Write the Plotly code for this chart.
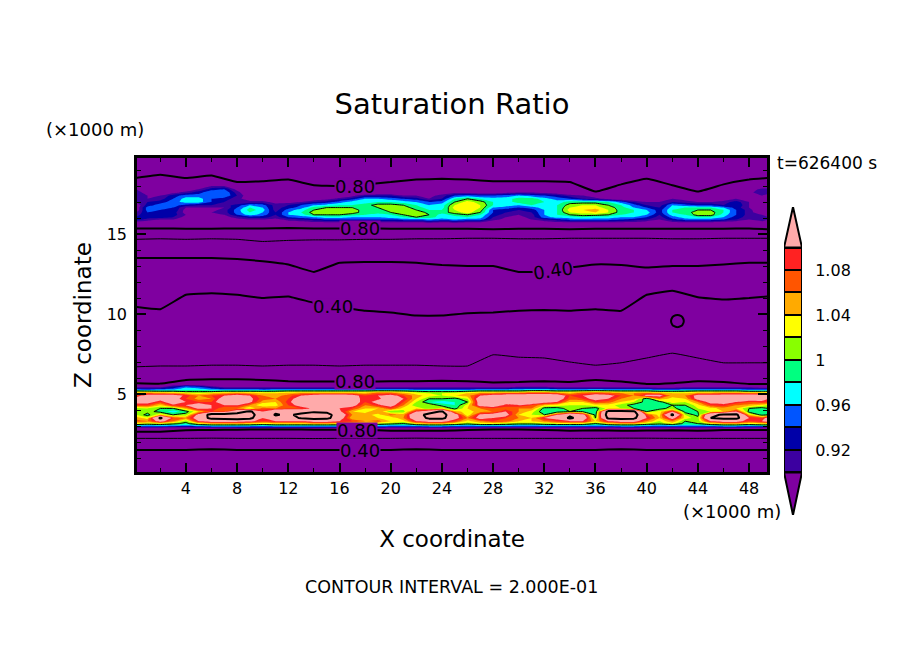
import numpy as np
import plotly.graph_objects as go

# ---------- colour levels ----------
fill_levels = [0.90, 0.92, 0.94, 0.96, 0.98, 1.00, 1.02, 1.04, 1.06, 1.08, 1.10]
band_colors = ["#7f00a0", "#3c00a0", "#0000a8", "#0055ff", "#00ffff", "#00ff80",
               "#88ff00", "#ffff00", "#ffaa00", "#ff5500", "#ff2222", "#ffaaaa"]
bar_ticks = [0.92, 0.96, 1.00, 1.04, 1.08]
bar_ticktext = ["0.92", "0.96", "1", "1.04", "1.08"]

# ---------- broad relative-humidity field (percent), columns every 2 km ----------
bg_x = [0.1, 2, 4, 6, 8, 10, 12, 14, 16, 18, 20, 22, 24, 26, 28, 30, 32, 34, 36, 38, 40, 42, 44, 46, 48, 49.5]
bg_z = [0.06, 1, 2, 2.5, 3, 5, 5.5, 6, 6.5, 8, 9.5, 11.8, 12.2, 14, 14.2, 14.9, 15.1, 15.6, 17.4, 19, 19.8]
bg_006 = [24, 24, 24, 24, 24, 24, 24, 24, 24, 24, 24, 24, 24, 24, 24, 24, 24, 24, 24, 24, 24, 24, 24, 24, 24, 24]
bg_010 = [30, 30, 30, 29, 30, 30, 30, 30, 30, 30, 30, 29, 30, 30, 30, 30, 30, 30, 30, 29, 30, 30, 30, 30, 30, 30]
bg_020 = [50, 50, 50, 49, 50, 50, 50, 50, 50, 50, 50, 49, 50, 50, 50, 50, 50, 50, 50, 49, 50, 50, 50, 50, 50, 50]
bg_025 = [72, 72, 72, 72, 72, 72, 72, 73, 72, 72, 72, 72, 72, 72, 72, 72, 72, 72, 72, 72, 71, 72, 72, 72, 72, 72]
bg_030 = [99, 99, 89, 88, 87, 86, 86, 86, 87, 88, 91, 91, 92, 88, 86, 86, 88, 91, 89, 92, 92, 89, 92, 88, 88, 88]
bg_050 = [100, 100, 100, 100, 100, 100, 100, 100, 100, 100, 100, 100, 100, 100, 100, 100, 100, 100, 100, 100, 100, 100, 100, 100, 100, 100]
bg_055 = [87, 86, 95, 97, 97, 95, 92, 91, 91, 91, 92, 92, 93, 92, 89, 90, 92, 90, 95, 91, 85, 87, 92, 90, 85, 85]
bg_060 = [67, 66, 75, 77, 77, 75, 72, 71, 71, 71, 72, 72, 73, 72, 69, 70, 72, 70, 75, 71, 65, 67, 72, 70, 65, 65]
bg_065 = [62, 62.5, 62.5, 63, 63, 62.5, 63, 63, 62.5, 63, 63, 63, 62.5, 62.5, 69.5, 68, 67.5, 65, 63, 64.5, 67.5, 70.5, 67.5, 64.5, 64.5, 64.5]
bg_080 = [47, 47.5, 47.5, 48, 48, 47.5, 48, 48, 47.5, 48, 48, 48, 47.5, 47.5, 54.5, 53, 52.5, 50, 48, 49.5, 52.5, 55.5, 52.5, 49.5, 49.5, 49.5]
bg_095 = [44.7, 44, 48.5, 49, 48.5, 47.5, 48, 46, 44.75, 43.5, 43, 42, 42, 42.75, 43, 43.5, 43.75, 43.5, 44, 43.5, 48.5, 49.75, 47.75, 47, 47.5, 48]
bg_118 = [33.2, 32.5, 37, 37.5, 37, 36, 36.5, 34.5, 33.25, 32, 31.5, 30.5, 30.5, 31.25, 31.5, 32, 32.25, 32, 32.5, 32, 37, 38.25, 36.25, 35.5, 36, 36.5]
bg_122 = [27, 27, 27, 27, 27.6, 29, 31, 35.7, 30, 29.5, 29.5, 30, 31.4, 32, 32, 35.7, 35.7, 33, 31, 31.4, 33, 32, 32, 31, 30, 30]
bg_140 = [45, 45, 45, 45, 45.6, 47, 49, 53.7, 48, 47.5, 47.5, 48, 49.4, 50, 50, 53.7, 53.7, 51, 49, 49.4, 51, 50, 50, 49, 48, 48]
bg_142 = [46, 45, 46, 45, 46, 50, 48, 47, 47, 46, 46, 45, 45, 44, 44, 45, 45, 44, 44, 44, 44, 45, 45, 44, 44, 44]
bg_149 = [67, 66, 67, 66, 67, 71, 69, 68, 68, 67, 67, 66, 66, 65, 65, 66, 66, 65, 65, 65, 65, 66, 66, 65, 65, 65]
bg_151 = [70, 70, 71, 71, 70, 70, 69, 70, 70, 70, 71, 71, 71, 71, 72, 71, 71, 72, 71, 71, 71, 71, 71, 71, 70, 72]
bg_156 = [90, 90, 91, 91, 90, 90, 89, 90, 90, 90, 91, 91, 91, 91, 92, 91, 91, 92, 91, 91, 91, 91, 91, 91, 90, 92]
bg_174 = [91, 93, 91, 92.5, 88.5, 89, 90, 86.5, 86, 87, 88.5, 90, 90.5, 90, 89, 89, 89, 88.5, 82.5, 87, 90.5, 86.5, 82.5, 87, 90, 91]
bg_190 = [75, 77, 75, 76.5, 72.5, 73, 74, 70.5, 70, 71, 72.5, 74, 74.5, 74, 73, 73, 73, 72.5, 66.5, 71, 74.5, 70.5, 66.5, 71, 74, 75]
bg_198 = [60, 60, 60, 60, 60, 60, 60, 60, 60, 60, 60, 60, 60, 60, 60, 60, 60, 60, 60, 60, 60, 60, 60, 60, 60, 60]
bg_rows = [bg_006, bg_010, bg_020, bg_025, bg_030, bg_050, bg_055, bg_060, bg_065, bg_080, bg_095, bg_118,
           bg_122, bg_140, bg_142, bg_149, bg_151, bg_156, bg_174, bg_190, bg_198]

# small closed pocket near x=42.4 km
pocket_x = [41.8, 42.1, 42.4, 42.7, 43.0]
pocket_z = [9.1, 9.33, 9.56, 9.79, 10.02]
pocket_vals = [[43, 42, 41, 42, 43], [42, 39, 38, 39, 42], [41, 38, 36, 38, 41], [42, 39, 38, 39, 42], [43, 42, 41, 42, 43]]

# ---------- fine columns ----------
band_x = [0.1] + list(range(1, 50)) + [49.5]

# upper cloud layer, rows top to bottom (percent)
up_z = [18.2, 18.0, 17.8, 17.6, 17.4, 17.2, 17.0, 16.8, 16.65, 16.5, 16.35, 16.2, 16.05, 15.9, 15.7, 15.5]
u182 = [86, 86, 86, 86, 86, 86, 87, 87, 86, 86, 86, 86, 86, 86, 86, 86, 86, 86, 86, 86, 86, 86, 86, 86, 86, 86, 86, 86, 86, 86, 86, 86, 86, 86, 86, 86, 86, 86, 86, 86, 86, 86, 86, 86, 86, 86, 86, 86, 86, 86, 86]
u180 = [87, 86, 86, 86, 86, 87, 90, 90, 87, 86, 86, 86, 86, 86, 86, 86, 86, 86, 86, 86, 86, 86, 86, 86, 86, 86, 86, 86, 86, 86, 86, 86, 86, 86, 86, 86, 86, 86, 86, 86, 86, 86, 86, 86, 86, 86, 86, 86, 86, 87, 87]
u178 = [90, 88, 86, 86, 87, 90, 93, 94, 89, 86, 86, 86, 86, 86, 86, 86, 86, 86, 86, 86, 86, 86, 86, 86, 87, 87, 87, 87, 87, 87, 87, 87, 87, 87, 87, 87, 87, 87, 87, 87, 86, 86, 86, 86, 86, 86, 86, 86, 88, 91, 91]
u176 = [91, 89, 88, 89, 91, 93, 96, 96, 91, 87, 87, 87, 87, 87, 87, 87, 87, 87, 87, 87, 87, 87, 87, 87, 88, 89, 89, 88, 88, 89, 90, 90, 89, 88, 87, 87, 87, 87, 87, 87, 87, 87, 87, 87, 87, 87, 87, 87, 89, 92, 91]
u174 = [92, 90, 90, 93, 95, 95, 96, 96, 92, 88, 87, 87, 87, 87, 87, 87, 87, 89, 92, 92, 92, 90, 90, 89, 91, 94, 95, 94, 94, 95, 96, 95, 94, 93, 91, 90, 88, 87, 87, 87, 87, 87, 87, 87, 87, 87, 87, 87, 87, 90, 89]
u172 = [92, 90, 91, 94, 97, 97, 94, 93, 91, 88, 88, 87, 87, 87, 88, 89, 91, 93, 96, 96, 95, 94, 93, 90, 92, 98, 100, 98, 97, 97, 99, 99, 97, 95, 94, 92, 91, 89, 88, 87, 88, 90, 90, 89, 88, 88, 88, 90, 89, 87, 87]
u170 = [90, 92, 93, 95, 97, 97, 94, 92, 90, 91, 91, 89, 89, 90, 92, 93, 95, 97, 97, 98, 98, 97, 96, 94, 95, 100, 103, 101, 98, 97, 99, 99, 98, 97, 99, 99, 99, 98, 95, 92, 90, 90, 92, 91, 90, 90, 91, 93, 90, 87, 87]
u168 = [88, 93, 95, 95, 93, 92, 92, 91, 93, 96, 95, 91, 92, 94, 96, 97, 98, 98, 99, 101, 101, 100, 98, 96, 97, 102, 104, 102, 98, 97, 96, 98, 98, 98, 101, 102, 102, 100, 98, 95, 92, 91, 96, 95, 94, 94, 92, 94, 90, 87, 87]
u1665 = [88, 95, 95, 94, 90, 90, 90, 90, 94, 98, 96, 91, 93, 95, 99, 100, 100, 100, 99, 100, 102, 101, 99, 97, 97, 103, 104, 102, 96, 95, 94, 95, 97, 98, 102, 103, 103, 101, 99, 96, 94, 92, 97, 98, 98, 98, 96, 93, 90, 87, 87]
u165 = [88, 95, 94, 94, 89, 88, 89, 91, 95, 99, 97, 91, 95, 97, 100, 101, 101, 101, 99, 99, 101, 102, 100, 98, 98, 102, 104, 101, 94, 93, 92, 93, 96, 98, 103, 104, 105, 102, 99, 98, 96, 93, 98, 99, 100, 100, 98, 94, 91, 87, 87]
u1635 = [90, 94, 94, 93, 89, 88, 90, 91, 95, 98, 96, 92, 96, 98, 101, 102, 102, 101, 99, 99, 100, 102, 102, 99, 99, 101, 103, 100, 94, 92, 91, 92, 96, 98, 102, 103, 104, 102, 99, 98, 97, 93, 98, 99, 101, 101, 98, 94, 91, 88, 88]
u162 = [91, 94, 94, 93, 90, 88, 90, 90, 94, 97, 95, 92, 96, 97, 100, 100, 100, 99, 98, 97, 98, 100, 102, 100, 97, 99, 100, 98, 93, 91, 90, 91, 96, 98, 100, 101, 101, 100, 98, 97, 96, 92, 97, 98, 101, 101, 97, 94, 91, 90, 89]
u1605 = [92, 93, 93, 92, 89, 87, 88, 89, 91, 93, 93, 91, 94, 95, 96, 97, 97, 96, 96, 96, 97, 98, 100, 99, 97, 97, 98, 97, 92, 90, 89, 91, 95, 97, 97, 98, 97, 97, 96, 96, 94, 91, 95, 97, 98, 98, 96, 93, 91, 92, 90]
u159 = [93, 91, 90, 90, 87, 86, 87, 87, 89, 90, 90, 89, 91, 92, 93, 94, 94, 94, 94, 94, 94, 95, 95, 96, 95, 96, 95, 95, 91, 89, 88, 90, 92, 93, 95, 95, 95, 95, 94, 93, 92, 90, 93, 95, 95, 95, 94, 92, 90, 92, 90]
u157 = [88, 88, 87, 87, 86, 85, 86, 86, 87, 88, 88, 87, 88, 88, 89, 89, 89, 89, 89, 89, 89, 89, 89, 90, 89, 90, 89, 89, 87, 87, 87, 87, 88, 89, 89, 89, 89, 89, 89, 89, 88, 87, 89, 89, 89, 89, 88, 88, 87, 88, 87]
u155 = [84, 84, 84, 84, 84, 84, 84, 84, 84, 84, 84, 84, 84, 84, 84, 84, 84, 84, 84, 84, 84, 84, 84, 84, 84, 84, 84, 84, 84, 84, 84, 84, 84, 84, 84, 84, 84, 84, 84, 84, 84, 84, 84, 84, 84, 84, 84, 84, 84, 84, 84]
up_rows = [u182, u180, u178, u176, u174, u172, u170, u168, u1665, u165, u1635, u162, u1605, u159, u157, u155]

# lower cloud layer, one list per column, values top to bottom (percent)
low_z = [5.55, 5.45, 5.35, 5.25, 5.15, 5.05, 4.9, 4.7, 4.5, 4.3, 4.1, 3.9, 3.7, 3.5, 3.3, 3.15, 3.05, 2.95, 2.85, 2.7]
c00 = [87, 89, 92, 97, 102, 106, 108, 112, 112, 108, 101, 100, 102, 105, 107, 103, 98, 93, 88, 84]
c01 = [87, 89, 92, 96, 102, 107, 112, 113, 112, 108, 102, 101, 99, 103, 106, 102, 97, 93, 88, 84]
c02 = [87, 89, 92, 97, 101, 106, 112, 112, 108, 104, 100, 99, 104, 122, 112, 103, 98, 93, 88, 84]
c03 = [90, 92, 94, 97, 101, 105, 113, 112, 114, 109, 100, 97, 100, 108, 106, 101, 97, 92, 88, 84]
c04 = [92, 95, 97, 98, 100, 104, 109, 108, 110, 110, 105, 99, 101, 106, 101, 99, 96, 92, 87, 84]
c05 = [91, 94, 96, 98, 100, 103, 106, 105, 108, 113, 111, 104, 112, 113, 110, 103, 98, 93, 88, 84]
c06 = [88, 91, 94, 97, 100, 104, 108, 106, 108, 110, 110, 108, 124, 123, 112, 105, 99, 94, 88, 85]
c07 = [87, 89, 92, 97, 101, 105, 110, 113, 114, 110, 106, 108, 124, 124, 112, 105, 99, 94, 88, 85]
c08 = [87, 89, 92, 97, 101, 106, 112, 114, 114, 110, 106, 114, 126, 125, 112, 105, 99, 94, 89, 85]
c09 = [87, 89, 92, 97, 101, 105, 110, 111, 111, 106, 102, 122, 125, 123, 111, 104, 99, 94, 89, 85]
c10 = [87, 89, 92, 96, 101, 104, 106, 107, 105, 102, 107, 110, 112, 110, 108, 103, 98, 94, 89, 85]
c11 = [87, 89, 92, 97, 101, 104, 105, 106, 104, 103, 106, 118, 121, 116, 110, 104, 99, 94, 89, 85]
c12 = [87, 89, 92, 97, 102, 105, 107, 108, 109, 108, 108, 116, 118, 116, 110, 104, 99, 94, 89, 85]
c13 = [87, 89, 92, 97, 102, 106, 110, 113, 114, 112, 108, 116, 123, 121, 110, 104, 99, 94, 89, 85]
c14 = [87, 89, 92, 97, 102, 106, 112, 114, 115, 113, 111, 119, 125, 124, 112, 105, 99, 94, 89, 85]
c15 = [87, 89, 92, 97, 102, 106, 113, 115, 116, 114, 112, 118, 124, 123, 112, 105, 99, 94, 89, 85]
c16 = [87, 89, 92, 97, 102, 106, 113, 115, 115, 114, 110, 111, 114, 113, 110, 104, 99, 94, 89, 85]
c17 = [87, 89, 92, 97, 102, 106, 112, 113, 113, 112, 108, 104, 106, 104, 108, 103, 98, 94, 89, 85]
c18 = [87, 89, 92, 97, 102, 105, 108, 108, 108, 106, 104, 103, 105, 106, 106, 102, 98, 94, 89, 85]
c19 = [87, 89, 92, 97, 103, 107, 110, 109, 112, 109, 104, 106, 103, 104, 107, 102, 98, 94, 89, 85]
c20 = [87, 89, 92, 97, 103, 107, 112, 113, 114, 112, 108, 100, 107, 102, 104, 101, 97, 93, 88, 84]
c21 = [87, 89, 92, 97, 102, 105, 108, 110, 108, 106, 103, 101, 105, 106, 103, 100, 97, 93, 88, 84]
c22 = [87, 89, 92, 96, 101, 103, 105, 104, 102, 100, 104, 110, 116, 114, 110, 104, 98, 93, 88, 84]
c23 = [87, 89, 92, 96, 100, 102, 103, 100, 98, 102, 100, 116, 123, 122, 112, 105, 99, 94, 88, 84]
c24 = [87, 89, 92, 96, 100, 102, 102, 100, 97, 99, 103, 121, 124, 123, 112, 105, 99, 94, 88, 84]
c25 = [87, 89, 92, 96, 100, 103, 104, 99, 98, 98, 99, 105, 113, 112, 108, 103, 98, 93, 88, 84]
c26 = [87, 89, 92, 96, 101, 104, 105, 102, 100, 103, 104, 103, 102, 106, 103, 101, 97, 93, 88, 84]
c27 = [87, 89, 92, 97, 102, 106, 110, 114, 113, 112, 106, 105, 111, 112, 106, 103, 98, 93, 88, 84]
c28 = [87, 89, 92, 97, 102, 106, 112, 114, 114, 113, 108, 106, 112, 110, 108, 103, 98, 93, 88, 84]
c29 = [87, 89, 92, 97, 102, 107, 113, 113, 112, 109, 107, 110, 112, 108, 107, 102, 98, 93, 88, 84]
c30 = [87, 90, 93, 97, 102, 107, 114, 115, 113, 110, 106, 106, 104, 106, 104, 101, 97, 93, 88, 84]
c31 = [87, 90, 93, 98, 103, 108, 115, 115, 114, 108, 106, 103, 102, 104, 104, 101, 97, 93, 88, 84]
c32 = [87, 90, 93, 98, 103, 108, 114, 114, 112, 104, 99, 98, 100, 110, 106, 102, 98, 93, 88, 84]
c33 = [87, 89, 92, 97, 102, 107, 114, 113, 110, 103, 99, 98, 110, 112, 108, 103, 98, 93, 88, 84]
c34 = [87, 89, 92, 97, 102, 105, 108, 107, 104, 102, 101, 100, 118, 122, 110, 103, 98, 93, 88, 84]
c35 = [87, 89, 92, 97, 103, 107, 110, 108, 104, 102, 100, 100, 112, 115, 110, 103, 98, 93, 88, 84]
c36 = [87, 89, 92, 98, 103, 108, 113, 112, 108, 103, 99, 98, 99, 100, 104, 100, 97, 93, 88, 84]
c37 = [87, 89, 92, 97, 103, 107, 112, 110, 107, 103, 103, 123, 125, 122, 110, 104, 98, 93, 88, 84]
c38 = [87, 89, 92, 97, 102, 106, 108, 106, 104, 101, 102, 124, 126, 124, 112, 105, 99, 94, 88, 84]
c39 = [87, 89, 92, 97, 102, 106, 106, 105, 102, 99, 100, 122, 125, 122, 112, 105, 99, 94, 88, 84]
c40 = [87, 89, 92, 97, 102, 107, 112, 98, 99, 100, 99, 100, 108, 110, 106, 102, 98, 93, 88, 84]
c41 = [86, 88, 91, 96, 101, 106, 112, 106, 99, 100, 99, 103, 103, 104, 102, 101, 97, 93, 88, 84]
c42 = [86, 88, 91, 96, 101, 104, 105, 103, 103, 100, 101, 110, 122, 112, 106, 103, 98, 93, 88, 84]
c43 = [87, 89, 92, 97, 101, 104, 106, 104, 102, 100, 98, 99, 102, 103, 100, 99, 97, 93, 88, 84]
c44 = [87, 89, 92, 97, 102, 106, 112, 112, 106, 103, 102, 100, 99, 101, 101, 100, 97, 93, 88, 84]
c45 = [87, 89, 92, 97, 102, 106, 112, 113, 112, 108, 103, 102, 118, 120, 110, 103, 98, 93, 88, 84]
c46 = [87, 89, 92, 97, 102, 107, 113, 114, 112, 109, 105, 104, 121, 122, 112, 105, 99, 94, 88, 84]
c47 = [87, 89, 92, 97, 102, 107, 113, 114, 110, 106, 104, 110, 122, 123, 112, 105, 99, 94, 88, 84]
c48 = [87, 89, 92, 96, 101, 106, 114, 113, 108, 105, 100, 99, 104, 110, 108, 103, 98, 93, 88, 84]
c49 = [86, 88, 91, 96, 101, 106, 113, 112, 109, 103, 99, 98, 99, 108, 110, 104, 99, 93, 88, 84]
c50 = [86, 88, 91, 96, 101, 105, 112, 110, 108, 102, 100, 99, 100, 112, 112, 104, 99, 93, 88, 84]
low_cols = [c00, c01, c02, c03, c04, c05, c06, c07, c08, c09, c10, c11, c12, c13, c14, c15, c16, c17, c18, c19,
            c20, c21, c22, c23, c24, c25, c26, c27, c28, c29, c30, c31, c32, c33, c34, c35, c36, c37, c38, c39,
            c40, c41, c42, c43, c44, c45, c46, c47, c48, c49, c50]

# contour labels: text, x, z, angle
label_text = ["0.80", "0.80", "0.80", "0.80", "0.40", "0.40", "0.40"]
label_x = [17.2, 17.6, 17.2, 17.4, 17.6, 15.5, 32.7]
label_z = [18.0, 15.37, 5.81, 2.69, 1.44, 10.44, 12.75]
label_angle = [0, 0, 0, 0, 0, 0, -8]

# ---------- assemble ----------
INK = "#000000"
FONT = "DejaVu Sans"
PX_W, PX_H = 904, 654
bg = np.array(bg_rows) / 100.0
up = np.array(up_rows)[::-1] / 100.0
low = (np.array(low_cols).T)[::-1] / 100.0
up_y = up_z[::-1]
low_y = low_z[::-1]

scale = [[i / (len(band_colors) - 1), c] for i, c in enumerate(band_colors)]
fig = go.Figure()

for zz, yy in ((up, up_y), (low, low_y)):
    fig.add_trace(go.Contour(x=band_x, y=yy, z=zz, colorscale=scale, showscale=False, hoverinfo="skip",
                             autocontour=False,
                             contours=dict(coloring="fill", start=fill_levels[0], end=fill_levels[-1],
                                           size=0.02, showlines=False),
                             line=dict(width=0, smoothing=0)))
    fig.add_trace(go.Contour(x=band_x, y=yy, z=zz, showscale=False, hoverinfo="skip", autocontour=False,
                             colorscale=[[0, INK], [1, INK]],
                             contours=dict(coloring="lines", start=1.0, end=1.0, size=0.2),
                             line=dict(color=INK, width=1, smoothing=0)))
    fig.add_trace(go.Contour(x=band_x, y=yy, z=zz, showscale=False, hoverinfo="skip", autocontour=False,
                             colorscale=[[0, INK], [1, INK]],
                             contours=dict(coloring="lines", start=1.2, end=1.2, size=0.2),
                             line=dict(color=INK, width=2, smoothing=0)))

fig.add_trace(go.Contour(x=bg_x, y=bg_z, z=bg, showscale=False, hoverinfo="skip", autocontour=False,
                         colorscale=[[0, INK], [1, INK]],
                         contours=dict(coloring="lines", start=0.4, end=0.8, size=0.4),
                         line=dict(color=INK, width=2, smoothing=0.3)))
fig.add_trace(go.Contour(x=bg_x, y=bg_z, z=bg, showscale=False, hoverinfo="skip", autocontour=False,
                         colorscale=[[0, INK], [1, INK]],
                         contours=dict(coloring="lines", start=0.6, end=0.6, size=0.2),
                         line=dict(color=INK, width=1, smoothing=0.3)))
fig.add_trace(go.Contour(x=pocket_x, y=pocket_z, z=np.array(pocket_vals) / 100.0, showscale=False, hoverinfo="skip",
                         autocontour=False, colorscale=[[0, INK], [1, INK]],
                         contours=dict(coloring="lines", start=0.4, end=0.4, size=0.2),
                         line=dict(color=INK, width=2, smoothing=1)))

# colour key built on its own small axes
mids = fill_levels[:-1]
fig.add_trace(go.Bar(x=[0.5] * len(mids), y=[0.02] * len(mids), base=mids, width=1,
                     marker=dict(color=band_colors[1:-1], line=dict(color=INK, width=2)),
                     xaxis="x2", yaxis="y2", showlegend=False, hoverinfo="skip"))
tip_hi, tip_lo = 1.136, 0.8622
fig.add_trace(go.Scatter(x=[0, 0.5, 1, 0], y=[fill_levels[-1], tip_hi, fill_levels[-1], fill_levels[-1]],
                         mode="lines", fill="toself", fillcolor=band_colors[-1], line=dict(color=INK, width=2),
                         xaxis="x2", yaxis="y2", showlegend=False, hoverinfo="skip", cliponaxis=False))
fig.add_trace(go.Scatter(x=[0, 0.5, 1, 0], y=[fill_levels[0], tip_lo, fill_levels[0], fill_levels[0]],
                         mode="lines", fill="toself", fillcolor=band_colors[0], line=dict(color=INK, width=2),
                         xaxis="x2", yaxis="y2", showlegend=False, hoverinfo="skip", cliponaxis=False))

anns = []
for t, xx, zz, ang in zip(label_text, label_x, label_z, label_angle):
    anns.append(dict(x=xx, y=zz, xref="x", yref="y", text=t, showarrow=False, textangle=ang,
                     font=dict(family=FONT, size=18, color=INK), bgcolor=band_colors[0], borderpad=0,
                     height=15))


def note(text, px, py, size=18, anchor="center"):
    return dict(x=px / PX_W, y=1 - py / PX_H, xref="paper", yref="paper", text=text, showarrow=False,
                xanchor=anchor, yanchor="middle", font=dict(family=FONT, size=size, color=INK))


anns += [note("(×1000 m)", 95, 129), note("(×1000 m)", 732, 511), note("t=626400 s", 827, 163, size=17),
         note("CONTOUR INTERVAL = 2.000E-01", 451, 587, size=17.5)]

fig.update_layout(
    width=PX_W, height=PX_H, margin=dict(l=0, r=0, t=0, b=0), paper_bgcolor="white",
    plot_bgcolor="rgba(0,0,0,0)", showlegend=False, bargap=0,
    title=dict(text="Saturation Ratio", x=452 / PX_W, xanchor="center", y=1 - 104 / PX_H, yanchor="middle",
               font=dict(family=FONT, size=29, color=INK)),
    font=dict(family=FONT, color=INK),
    annotations=anns,
    shapes=[dict(type="rect", xref="x domain", yref="y domain", x0=0, x1=1, y0=0, y1=1, layer="below",
                 fillcolor=band_colors[0], line=dict(width=0))],
    xaxis=dict(domain=[137 / PX_W, 767 / PX_W], range=[0.178, 49.4], tick0=0, dtick=4, ticks="inside", ticklen=9,
               tickwidth=1.5, tickcolor=INK, showline=True, linecolor=INK, linewidth=2.5, mirror="ticks",
               showgrid=False, zeroline=False, tickfont=dict(size=16),
               minor=dict(tick0=0, dtick=2, ticks="inside", ticklen=4, tickwidth=1, tickcolor=INK, showgrid=False),
               title=dict(text="X coordinate", font=dict(size=23), standoff=34)),
    yaxis=dict(domain=[1 - 472 / PX_H, 1 - 158 / PX_H], range=[0.125, 19.75], tick0=0, dtick=5, ticks="inside",
               ticklen=9, tickwidth=1.5, tickcolor=INK, showline=True, linecolor=INK, linewidth=2.5, mirror="ticks",
               showgrid=False, zeroline=False, tickfont=dict(size=16), ticklabelstandoff=4,
               minor=dict(tick0=0, dtick=1, ticks="inside", ticklen=4, tickwidth=1, tickcolor=INK, showgrid=False),
               title=dict(text="Z coordinate", font=dict(size=23), standoff=9)),
    xaxis2=dict(domain=[784 / PX_W, 802 / PX_W], range=[0, 1], visible=False, anchor="y2", fixedrange=True),
    yaxis2=dict(domain=[1 - 515 / PX_H, 1 - 207 / PX_H], range=[tip_lo, tip_hi], anchor="x2", side="right",
                tickvals=bar_ticks, ticktext=bar_ticktext, ticks="outside", ticklen=9,
                tickcolor="rgba(0,0,0,0)", tickfont=dict(size=16), showgrid=False, zeroline=False, showline=False),
)

fig.write_html("out.html", config={"displayModeBar": False}, post_script="document.body.style.margin='0';")
